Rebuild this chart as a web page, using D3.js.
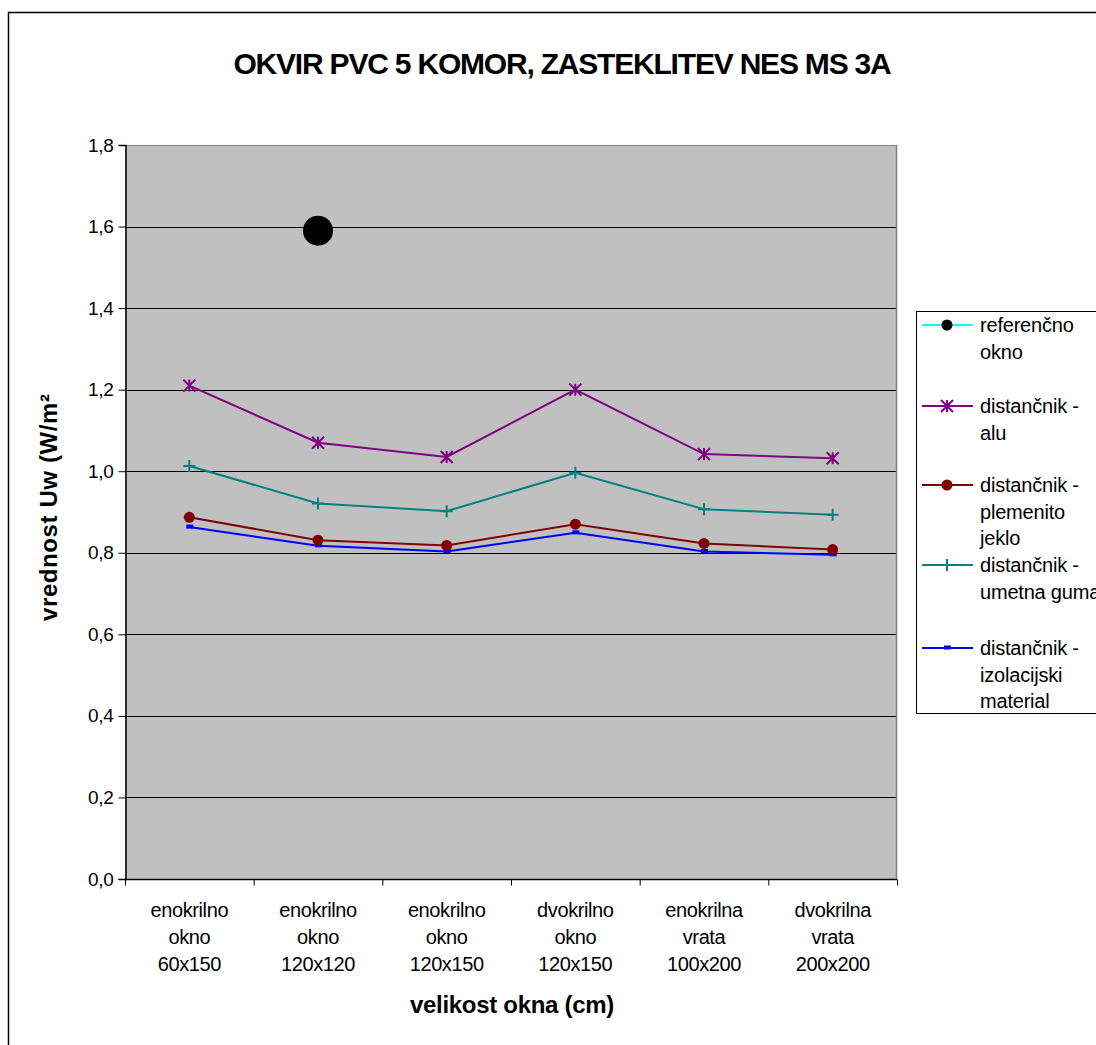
<!DOCTYPE html>
<html>
<head>
<meta charset="utf-8">
<script src="https://cdn.jsdelivr.net/npm/d3@7"></script>
<style>
  html, body { margin: 0; padding: 0; background: #fff; overflow: hidden; }
  text { font-family: "Liberation Sans", Arial, sans-serif; }
</style>
</head>
<body>
<svg id="chart" width="1096" height="1045"></svg>
<script>
// Window sizes (x axis categories), one label line per entry
const categories = [
  ["enokrilno", "okno", "60x150"],
  ["enokrilno", "okno", "120x120"],
  ["enokrilno", "okno", "120x150"],
  ["dvokrilno", "okno", "120x150"],
  ["enokrilna", "vrata", "100x200"],
  ["dvokrilna", "vrata", "200x200"]
];

// Uw values per spacer type
const referencno = [null, 1.59, null, null, null, null];
const alu        = [1.21, 1.07, 1.035, 1.20, 1.042, 1.032];
const jeklo      = [0.887, 0.831, 0.818, 0.870, 0.823, 0.808];
const guma       = [1.013, 0.921, 0.902, 0.996, 0.907, 0.893];
const izolacija  = [0.863, 0.817, 0.803, 0.849, 0.803, 0.795];

const yTicks = [0, 0.2, 0.4, 0.6, 0.8, 1.0, 1.2, 1.4, 1.6, 1.8];

const series = [
  { name: ["referenčno", "okno"], values: referencno, color: "#00FFFF", marker: "bigdot", mcolor: "#000" },
  { name: ["distančnik -", "alu"], values: alu, color: "#800080", marker: "star", mcolor: "#800080" },
  { name: ["distančnik -", "plemenito", "jeklo"], values: jeklo, color: "#800000", marker: "dot", mcolor: "#800000" },
  { name: ["distančnik -", "umetna guma"], values: guma, color: "#008080", marker: "plus", mcolor: "#008080" },
  { name: ["distančnik -", "izolacijski", "material"], values: izolacija, color: "#0000FF", marker: "dash", mcolor: "#0000FF" }
];

const svg = d3.select("#chart");
const plot = { left: 125, top: 145, right: 897, bottom: 879 };

// Outer chart frame
svg.append("rect")
  .attr("x", 8.5).attr("y", 12.5).attr("width", 1200).attr("height", 1200)
  .attr("fill", "#fff").attr("stroke", "#000").attr("stroke-width", 1.5);

// Title
svg.append("text")
  .attr("x", 562).attr("y", 74)
  .attr("text-anchor", "middle")
  .attr("font-size", 30).attr("font-weight", "bold")
  .attr("letter-spacing", "-1.2")
  .text("OKVIR PVC 5 KOMOR, ZASTEKLITEV NES MS 3A");

const x = d3.scaleBand()
  .domain(d3.range(categories.length))
  .range([plot.left, plot.right]);

const y = d3.scaleLinear()
  .domain([0, 1.8])
  .range([plot.bottom, plot.top]);

// Plot background
svg.append("rect")
  .attr("x", plot.left).attr("y", plot.top)
  .attr("width", plot.right - plot.left).attr("height", plot.bottom - plot.top)
  .attr("fill", "#C0C0C0");

// Horizontal gridlines
svg.append("g")
  .selectAll("line")
  .data(yTicks.filter(d => d > 0))
  .join("line")
  .attr("x1", plot.left).attr("x2", plot.right)
  .attr("y1", d => Math.round(y(d)) + 0.5).attr("y2", d => Math.round(y(d)) + 0.5)
  .attr("stroke", d => d === 1.8 ? "#808080" : "#000").attr("stroke-width", 1);

// Right border of plot area
svg.append("line")
  .attr("x1", plot.right - 0.5).attr("x2", plot.right - 0.5)
  .attr("y1", plot.top).attr("y2", plot.bottom)
  .attr("stroke", "#808080").attr("stroke-width", 1.5);

// Y axis
const yAxis = d3.axisLeft(y)
  .tickValues(yTicks)
  .tickSize(7)
  .tickPadding(5)
  .tickFormat(d => d3.format(".1f")(d).replace(".", ","));

const gy = svg.append("g")
  .attr("transform", `translate(${plot.left + 0.5},0)`)
  .call(yAxis);
gy.select(".domain").attr("stroke", "#000").attr("stroke-width", 1.5);
gy.selectAll(".tick line").attr("stroke", "#000");
gy.selectAll(".tick text")
  .attr("font-size", 19).attr("fill", "#000")
  .attr("font-family", "Liberation Sans, Arial, sans-serif")
  .attr("letter-spacing", "-0.3");

// X axis
const xAxis = d3.axisBottom(d3.scaleLinear().domain([0, categories.length]).range([plot.left, plot.right]))
  .tickValues(d3.range(categories.length + 1))
  .tickSize(6)
  .tickFormat("");
const gx = svg.append("g")
  .attr("transform", `translate(0,${plot.bottom + 0.5})`)
  .call(xAxis);
gx.select(".domain").attr("stroke", "#000").attr("stroke-width", 1.5).attr("d", `M${plot.left},0H${plot.right}`);
gx.selectAll(".tick line").attr("stroke", "#000");

// Category labels
const catG = svg.append("g");
categories.forEach((lines, i) => {
  const cx = x(i) + x.bandwidth() / 2;
  lines.forEach((ln, j) => {
    catG.append("text")
      .attr("x", cx).attr("y", 917 + j * 27)
      .attr("text-anchor", "middle")
      .attr("font-size", 20).attr("letter-spacing", "-0.4")
      .text(ln);
  });
});

// Axis titles
svg.append("text")
  .attr("x", 512).attr("y", 1013)
  .attr("text-anchor", "middle")
  .attr("font-size", 24).attr("font-weight", "bold").attr("letter-spacing", "-0.3")
  .text("velikost okna (cm)");

svg.append("clipPath").attr("id", "ytitle-clip")
  .append("rect").attr("x", 20).attr("y", 394).attr("width", 60).attr("height", 400);

svg.append("g").attr("clip-path", "url(#ytitle-clip)")
  .append("text")
  .attr("transform", "translate(57,621) rotate(-90)")
  .attr("text-anchor", "start")
  .attr("font-size", 24).attr("font-weight", "bold").attr("letter-spacing", "0.6")
  .text("vrednost Uw (W/m²K)");

// Marker drawing
function drawMarker(g, type, color, cx, cy, legend) {
  if (type === "bigdot") {
    g.append("circle").attr("cx", cx).attr("cy", cy).attr("r", legend ? 5.5 : 15).attr("fill", color);
  } else if (type === "dot") {
    g.append("circle").attr("cx", cx).attr("cy", cy).attr("r", 5.5).attr("fill", color);
  } else if (type === "star") {
    const s = 6;
    const p = `M${cx - s},${cy - s}L${cx + s},${cy + s}M${cx - s},${cy + s}L${cx + s},${cy - s}M${cx},${cy - s}L${cx},${cy + s}`;
    g.append("path").attr("d", p).attr("stroke", color).attr("stroke-width", 2).attr("fill", "none");
  } else if (type === "plus") {
    const s = 6;
    const p = `M${cx - s},${cy}L${cx + s},${cy}M${cx},${cy - s}L${cx},${cy + s}`;
    g.append("path").attr("d", p).attr("stroke", color).attr("stroke-width", 2).attr("fill", "none");
  } else if (type === "dash") {
    g.append("rect").attr("x", cx - 3).attr("y", cy - 2.5).attr("width", 7).attr("height", 4).attr("fill", color);
  }
}

// Series lines and markers
const line = d3.line()
  .defined(d => d.v !== null)
  .x(d => x(d.i) + x.bandwidth() / 2)
  .y(d => y(d.v));

const seriesG = svg.append("g");
// lower series first, so the upper ones sit on top
series.slice().reverse().forEach(s => {
  const pts = s.values.map((v, i) => ({ v, i }));
  seriesG.append("path")
    .datum(pts)
    .attr("d", line)
    .attr("fill", "none")
    .attr("stroke", s.color)
    .attr("stroke-width", 2);
  pts.filter(d => d.v !== null).forEach(d => {
    drawMarker(seriesG, s.marker, s.mcolor, x(d.i) + x.bandwidth() / 2, y(d.v), false);
  });
});

// Legend
const legend = svg.append("g");
legend.append("rect")
  .attr("x", 916.5).attr("y", 311.5).attr("width", 300).attr("height", 402)
  .attr("fill", "#fff").attr("stroke", "#000").attr("stroke-width", 1);

const legendRows = [325, 406, 485, 565, 648];
const legendStep = 26.5;
series.forEach((s, i) => {
  const ly = legendRows[i];
  legend.append("line")
    .attr("x1", 922).attr("x2", 973)
    .attr("y1", ly).attr("y2", ly)
    .attr("stroke", s.color).attr("stroke-width", 2);
  drawMarker(legend, s.marker, s.mcolor, 947, ly, true);
  s.name.forEach((t, j) => {
    legend.append("text")
      .attr("x", 980).attr("y", ly + 7 + j * legendStep)
      .attr("font-size", 20).attr("letter-spacing", "-0.2")
      .text(t);
  });
});
</script>
</body>
</html>
